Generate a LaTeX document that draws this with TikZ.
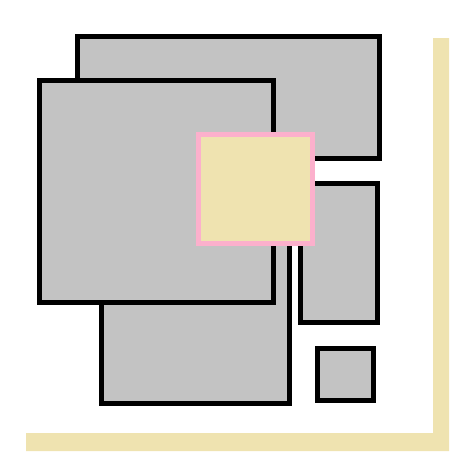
\documentclass[tikz,border=0pt]{standalone}
\definecolor{boxgray}{RGB}{195,195,195}
\definecolor{sand}{RGB}{239,227,176}
\definecolor{rose}{RGB}{252,176,204}
\tikzset{
  box/.style={draw=black,fill=boxgray,line width=5pt,inner sep=0pt,outer sep=0pt},
  hilite/.style={draw=rose,fill=sand,line width=5pt,inner sep=0pt,outer sep=0pt}
}
\begin{document}
\begin{tikzpicture}[x=1pt,y=-1pt]
 \useasboundingbox (0,0) rectangle (456,456);
 % sand frame
 \fill[sand] (433,38) -- (449,38) -- (449,451) -- (26,451) -- (26,433) -- (433,433) -- cycle;
 \path 	(228.5,97.25) 	node[box,minimum width=302pt,minimum height=122.5pt] (top) {}
 	(195.5,301.75) 	node[box,minimum width=188pt,minimum height=203.5pt] (low) {}
 	(156.5,191.5) 	node[box,minimum width=234pt,minimum height=222pt] (big) {}
 	(339,252.75) 	node[box,minimum width=77pt,minimum height=138.5pt] (side) {}
 	(345.5,374.25) 	node[box,minimum width=56pt,minimum height=51.5pt] (small) {}
 	(255.5,188.75) 	node[hilite,minimum width=114pt,minimum height=108.5pt] (mid) {};
\end{tikzpicture}
\end{document}
